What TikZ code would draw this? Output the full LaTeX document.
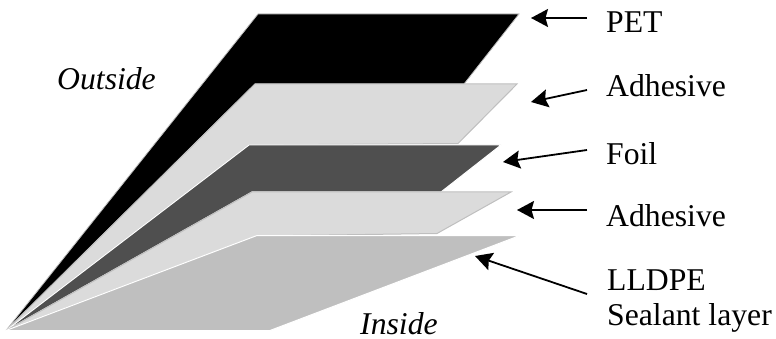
\documentclass[tikz,border=0pt]{standalone}
\usepackage{fontspec}
\setmainfont{Liberation Serif}
\usetikzlibrary{arrows.meta}
\tikzset{
  x=1pt,y=-1pt,
  layerblack/.style={fill=black,draw=black!25,line width=0.8pt,line join=miter},
  layerlight/.style={fill=black!14,draw=black!25,line width=1pt},
  layerfoil/.style={fill=black!69,draw=white,line width=1pt},
  layerseal/.style={fill=black!25,draw=white,line width=1pt},
  lbl/.style={font=\fontsize{31.7}{40}\selectfont,inner sep=0pt,anchor=base west,align=left},
  side/.style={font=\itshape\fontsize{31.7}{34}\selectfont,inner sep=0pt,anchor=base west},
  pointer/.style={-{Stealth[length=17pt,width=18pt,inset=2.5pt]},line width=1.8pt,black}
}
\begin{document}
\begin{tikzpicture}
\useasboundingbox (0,0) rectangle (776,339);
\coordinate (apex) at (6,330.5);
\fill[layerblack] (apex) -- (258,14) -- (519,14) -- (464,84) -- (255,84) -- cycle;
\draw[layerlight] (apex) -- (255,84) -- (517,84) -- (458,143.5) -- (249,145) -- cycle;
\draw[layerfoil] (apex) -- (249,145) -- (501,145) -- (441,192) -- (252,192) -- cycle;
\draw[layerlight] (apex) -- (252,192) -- (511,192) -- (437,233.5) -- (257,236) -- cycle;
\draw[layerseal] (apex) -- (257,235.5) -- (520,235.5) -- (270,330.5) -- cycle;
\node[side] (outside) at (57,90) {Outside};
\node[side] (inside) at (360,334) {Inside};
\node[lbl] (pet) at (606,33) {PET};
\node[lbl] (adh1) at (606,97) {Adhesive};
\node[lbl] (foil) at (606,165) {Foil};
\node[lbl] (adh2) at (606,226) {Adhesive};
\node[lbl] (lldpe) at (607,290) {LLDPE};
\node[lbl] (seal) at (607,325) {Sealant layer};
\coordinate (s1) at (587,18); \coordinate (t1) at (531,18);
\coordinate (s2) at (587,90); \coordinate (t2) at (531,102);
\coordinate (s3) at (587,150); \coordinate (t3) at (503,162);
\coordinate (s4) at (587,210); \coordinate (t4) at (517,210);
\coordinate (s5) at (587,294); \coordinate (t5) at (475,256);
\draw[pointer] (s1) -- (t1);
\draw[pointer] (s2) -- (t2);
\draw[pointer] (s3) -- (t3);
\draw[pointer] (s4) -- (t4);
\draw[pointer] (s5) -- (t5);
\end{tikzpicture}
\end{document}
